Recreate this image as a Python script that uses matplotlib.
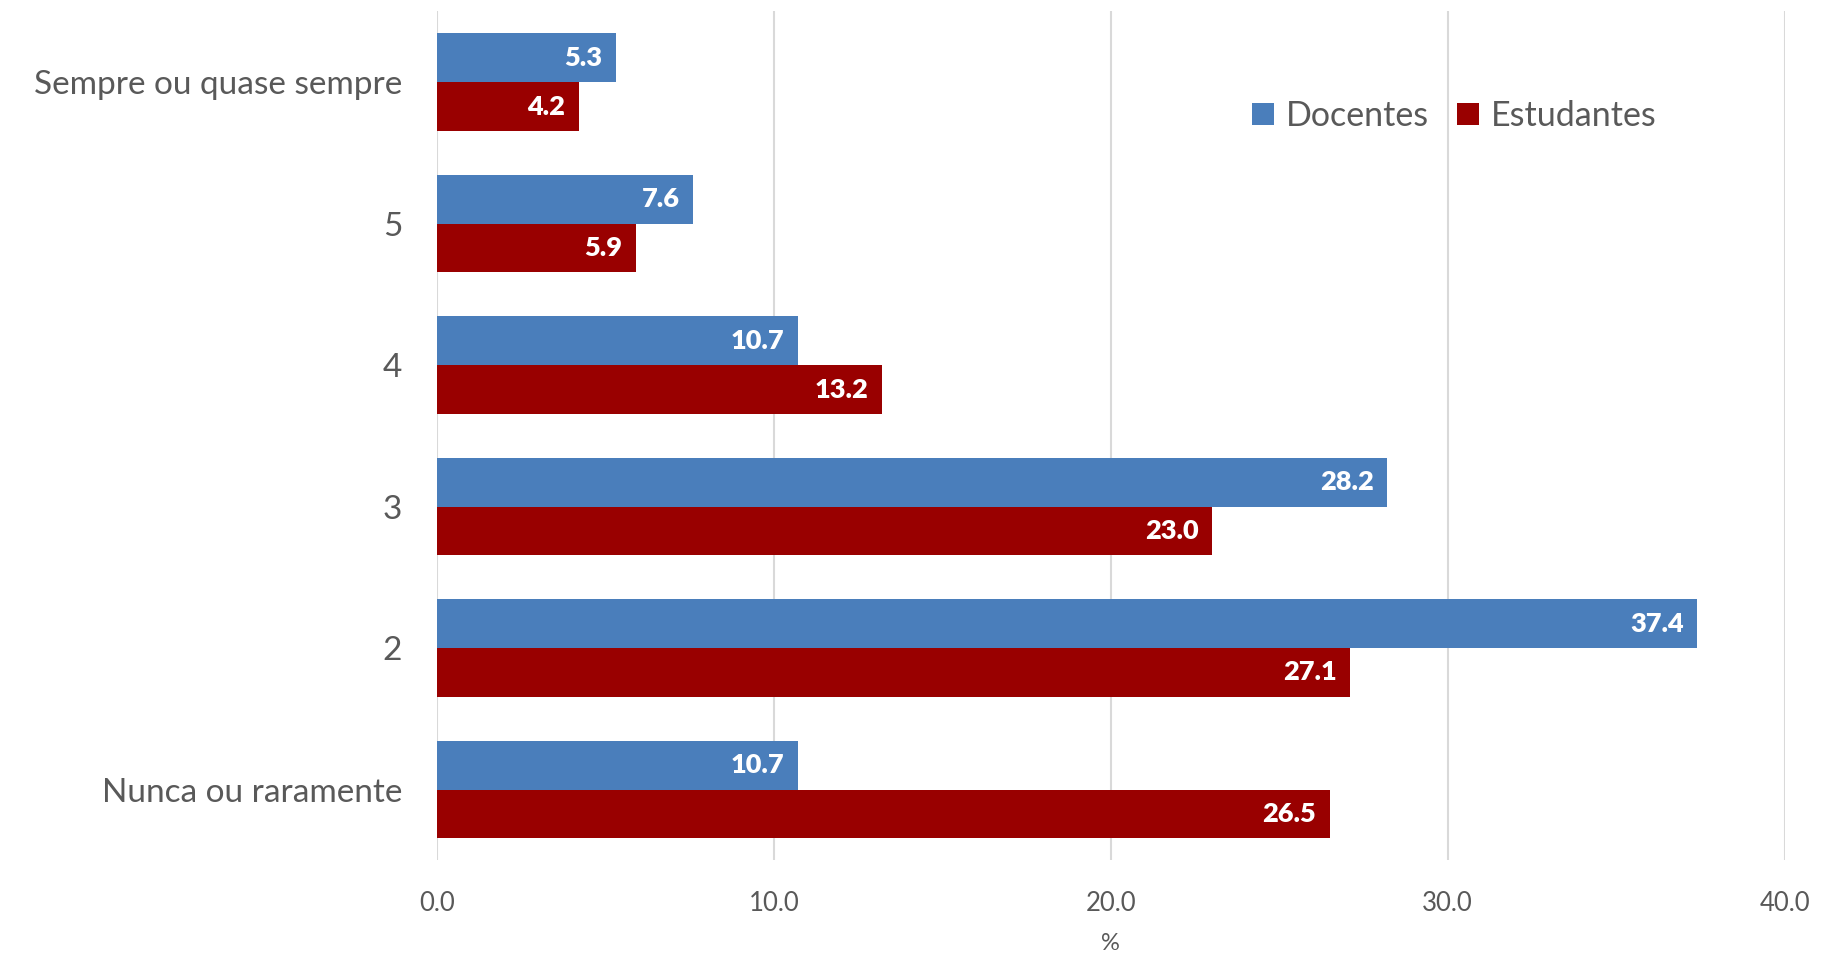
import matplotlib.pyplot as plt
import numpy as np

# ----------------------------
# Data
# ----------------------------
categories = ["Nunca ou raramente", "2", "3", "4", "5", "Sempre ou quase sempre"]
docentes = [10.7, 37.4, 28.2, 10.7, 7.6, 5.3]
estudantes = [26.5, 27.1, 23.0, 13.2, 5.9, 4.2]
xticks = [0, 10, 20, 30, 40]

blue = "#4a7ebb"
red = "#990000"
text_gray = "#595959"
grid_gray = "#d9d9d9"

plt.rcParams["font.family"] = ["Lato", "DejaVu Sans"]

fig = plt.figure(figsize=(18.21, 9.58), dpi=100)
ax = fig.add_axes([0.240, 0.102, 0.740, 0.886])

y = np.arange(len(categories))
h = 0.345

bars_doc = ax.barh(y + h / 2, docentes, height=h, color=blue, label="Docentes", zorder=3)
bars_est = ax.barh(y - h / 2, estudantes, height=h, color=red, label="Estudantes", zorder=3)

# value labels inside the bar ends
for bars, vals in ((bars_doc, docentes), (bars_est, estudantes)):
    for b, v in zip(bars, vals):
        ax.text(v - 0.4, b.get_y() + b.get_height() / 2, f"{v:.1f}",
                ha="right", va="center", color="white", fontsize=19.5,
                fontweight="heavy", zorder=4)

ax.set_xlim(0, 40)
ax.set_ylim(-0.5, 5.5)
ax.set_xticks(xticks)
ax.set_xticklabels([f"{t:.1f}" for t in xticks])
ax.set_yticks(y)
ax.set_yticklabels(categories)

ax.grid(axis="x", color=grid_gray, linewidth=1.5, zorder=0)
ax.grid(axis="y", visible=False)
for s in ax.spines.values():
    s.set_visible(False)

ax.tick_params(axis="both", length=0, colors=text_gray)
ax.tick_params(axis="y", labelsize=24, pad=25)
ax.tick_params(axis="x", labelsize=18.5, pad=22)

ax.set_xlabel("%", fontsize=17, color=text_gray, labelpad=12)

leg = ax.legend(loc="center right", bbox_to_anchor=(0.915, 0.877), ncol=2,
                frameon=False, fontsize=24.5, handlelength=0.65, handleheight=0.65,
                handletextpad=0.35, columnspacing=0.8, borderaxespad=0)
for t in leg.get_texts():
    t.set_color(text_gray)

fig.savefig("out.png", dpi=100, facecolor="white")
